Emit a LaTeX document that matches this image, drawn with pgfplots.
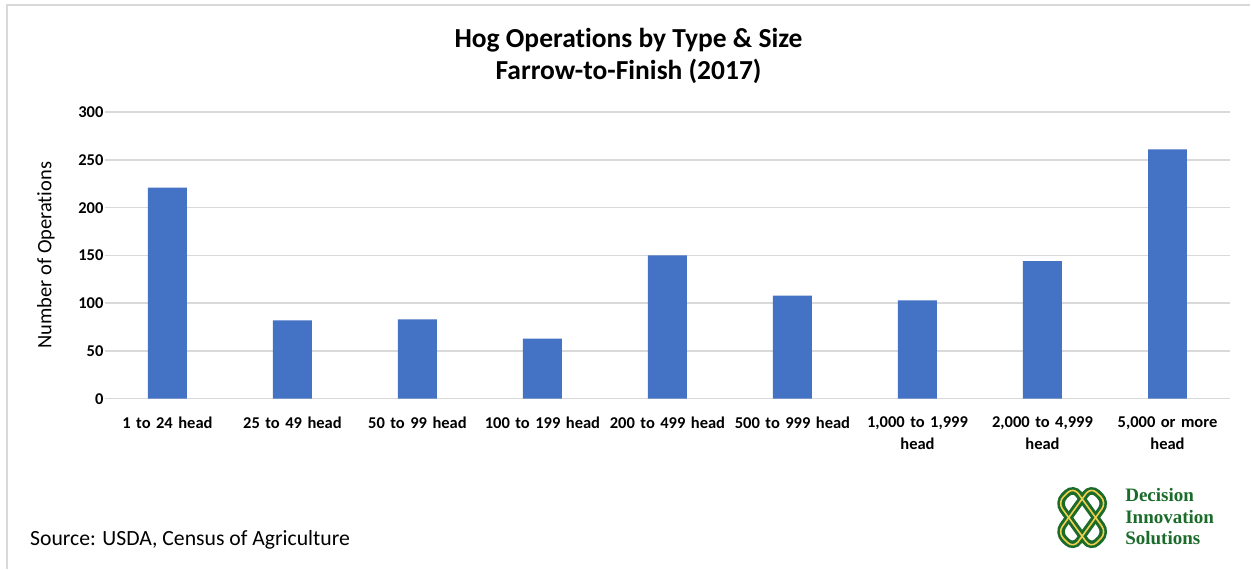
\documentclass[border=0pt]{standalone}
\usepackage{pgfplots}
\pgfplotsset{compat=1.18}
\usepackage{fontspec}
\setmainfont{Carlito}[Ligatures=CommonOff]
\newfontfamily\logofont{Liberation Serif}
\definecolor{barblue}{HTML}{4472C4}
\definecolor{gridgray}{HTML}{D9D9D9}
\definecolor{logogreen}{HTML}{1B6B2B}
\definecolor{logoyellow}{HTML}{F2D04B}
\begin{document}
\begin{tikzpicture}[x=1pt,y=1pt]
\path[fill=white] (0,0) rectangle (1251,569);
\draw[gridgray, line width=2pt] (7,0) -- (7,564) -- (1251,564);
\begin{axis}[
  at={(105pt,170pt)}, anchor=south west,
  scale only axis, width=1126pt, height=286.7pt,
  xmin=-0.5, xmax=8.5, ymin=0, ymax=300,
  ytick={0,50,...,300},
  xtick=data,
  xticklabels={1 to 24 head,25 to 49 head,50 to 99 head,100 to 199 head,200 to 499 head,500 to 999 head,{1,000 to 1,999\\head},{2,000 to 4,999\\head},{5,000 or more\\head}},
  xticklabel style={font=\bfseries\fontsize{16.5}{22}\selectfont, align=center, text width=125pt, yshift=-10pt},
  yticklabel style={font=\bfseries\fontsize{16.5}{18}\selectfont, xshift=2pt},
  /pgf/number format/assume math mode=true,
  ymajorgrids, grid style={draw=gridgray, line width=1.5pt},
  axis line style={draw=none}, major tick style={draw=none},
  ybar, bar width=39pt,
]
\addplot[fill=barblue, draw=none] coordinates {(0,221) (1,82) (2,83) (3,63) (4,150) (5,108) (6,103) (7,144) (8,261)};
\end{axis}
\node[rotate=90, font=\fontsize{20.5}{22}\selectfont] at (46,313.5) {Number of Operations};
\node[align=center, font=\bfseries\fontsize{27.5}{33}\selectfont] at (629,513) {Hog Operations by Type \& Size\\Farrow-to-Finish (2017)};
\node[anchor=base west, font=\fontsize{21.7}{22}\selectfont, inner sep=0pt] at (30,23) {Source: USDA, Census of Agriculture};
% logo
\begin{scope}[shift={(1083,51)}, xscale=0.86]
  \foreach \a in {50,-50}{
    \draw[logogreen, line width=7.5pt, rounded corners=9pt, rotate=\a] (-30,-12) rectangle (30,12);
  }
  \foreach \a in {50,-50}{
    \draw[logoyellow, line width=1.6pt, rounded corners=8pt, rotate=\a] (-30,-12) rectangle (30,12);
  }
\end{scope}
\begin{scope}[every node/.style={anchor=base west, inner sep=0pt, text=logogreen, font=\logofont\bfseries\fontsize{19}{21}\selectfont}]
\node at (1126,67) {Decision};
\node at (1126,45.5) {Innovation};
\node at (1126,24) {Solutions};
\end{scope}
\end{tikzpicture}
\end{document}
